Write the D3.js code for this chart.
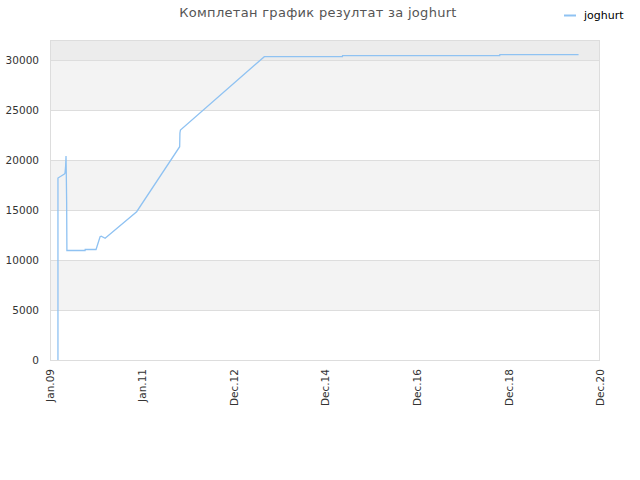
<!DOCTYPE html>
<html lang="sr">
<head>
<meta charset="UTF-8">
<title>joghurt</title>
<script src="https://cdn.jsdelivr.net/npm/d3@7"></script>
<style>
  body { margin: 0; background: #fff; }
  text { font-family: "DejaVu Sans", Verdana, sans-serif; }
</style>
</head>
<body>
<svg id="main" width="640" height="480"></svg>
<script>
  // data
  const dates = [
    "2009-03-08", "2009-03-08", "2009-04-28", "2009-05-03", "2009-05-08", "2009-05-11",
    "2009-05-13", "2009-05-16", "2009-05-18", "2009-10-09", "2009-10-10", "2010-01-04",
    "2010-02-05", "2010-02-14", "2010-03-17", "2010-11-22", "2011-10-29", "2011-10-31",
    "2011-11-04", "2013-08-30", "2015-05-11", "2015-05-12", "2018-10-09", "2018-10-10",
    "2020-06-25"
  ];
  const values = [
    0, 18200, 18600, 18700, 19400, 20400,
    18800, 15700, 10950, 10950, 11050, 11050,
    12330, 12380, 12170, 14830, 21330, 22700,
    23000, 30330, 30330, 30430, 30430, 30530,
    30530
  ];
  const seriesName = "joghurt";
  const yTicks = [0, 5000, 10000, 15000, 20000, 25000, 30000];
  const xTickLabels = ["Jan.09", "Jan.11", "Dec.12", "Dec.14", "Dec.16", "Dec.18", "Dec.20"];
  const title = "Комплетан график резултат за joghurt";

  const svg = d3.select("#main");
  const m = { left: 50, right: 600, top: 40, bottom: 360 };
  const parse = d3.timeParse("%Y-%m-%d");
  const start = parse("2009-01-04"), end = parse("2020-12-12");

  const x = d3.scaleTime().domain([start, end]).range([m.left, m.right]);
  const y = d3.scaleLinear().domain([0, 32000]).range([m.bottom, m.top]);

  // background bands
  const bands = d3.range(0, 32000, 5000);
  svg.append("g").selectAll("rect").data(bands).join("rect")
    .attr("x", m.left)
    .attr("width", m.right - m.left)
    .attr("y", d => y(Math.min(d + 5000, 32000)))
    .attr("height", d => y(d) - y(Math.min(d + 5000, 32000)))
    .attr("fill", (d, i) => d >= 30000 ? "#ececec" : (i % 2 ? "#f3f3f3" : "#ffffff"));

  // grid lines
  svg.append("g").selectAll("line").data(yTicks.slice(1)).join("line")
    .attr("x1", m.left).attr("x2", m.right)
    .attr("y1", d => Math.round(y(d)) + 0.5).attr("y2", d => Math.round(y(d)) + 0.5)
    .attr("stroke", "#dddddd");

  // frame
  svg.append("rect")
    .attr("x", m.left + 0.5).attr("y", m.top + 0.5)
    .attr("width", m.right - m.left - 1).attr("height", m.bottom - m.top)
    .attr("fill", "none").attr("stroke", "#dddddd");

  // y axis
  const yAxis = svg.append("g")
    .attr("transform", `translate(${m.left},0)`)
    .call(d3.axisLeft(y).tickValues(yTicks).tickSize(0).tickPadding(11).tickFormat(d3.format("d")));
  yAxis.select(".domain").remove();
  yAxis.selectAll("text").attr("font-size", 10.5).attr("fill", "#333");

  // x axis, evenly spaced ticks
  const xTickVals = xTickLabels.map((l, i) => new Date(+start + (end - start) * i / (xTickLabels.length - 1)));
  const xAxis = svg.append("g")
    .attr("transform", `translate(0,${m.bottom})`)
    .call(d3.axisBottom(x).tickValues(xTickVals).tickSize(0)
      .tickFormat((d, i) => xTickLabels[i]));
  xAxis.select(".domain").remove();
  xAxis.selectAll("text")
    .attr("font-size", 10.5).attr("fill", "#333")
    .attr("transform", "rotate(-90)")
    .attr("text-anchor", "end")
    .attr("x", -9).attr("y", 0).attr("dy", "0.35em");

  // line
  const pts = dates.map((d, i) => ({ date: parse(d), value: values[i] }));
  const line = d3.line().x(d => x(d.date)).y(d => y(d.value));
  svg.append("path")
    .datum(pts)
    .attr("d", line)
    .attr("fill", "none")
    .attr("stroke", "#8fc2f2")
    .attr("stroke-width", 1.3);

  // title
  svg.append("text")
    .attr("x", 318).attr("y", 17)
    .attr("text-anchor", "middle")
    .attr("font-size", 13)
    .attr("fill", "#555")
    .attr("letter-spacing", 0.3)
    .text(title);

  // legend
  svg.append("line")
    .attr("x1", 564).attr("x2", 576).attr("y1", 15.5).attr("y2", 15.5)
    .attr("stroke", "#8fc2f2").attr("stroke-width", 2);
  svg.append("text")
    .attr("x", 584).attr("y", 19)
    .attr("font-size", 11)
    .attr("fill", "#000")
    .text(seriesName);
</script>
</body>
</html>
